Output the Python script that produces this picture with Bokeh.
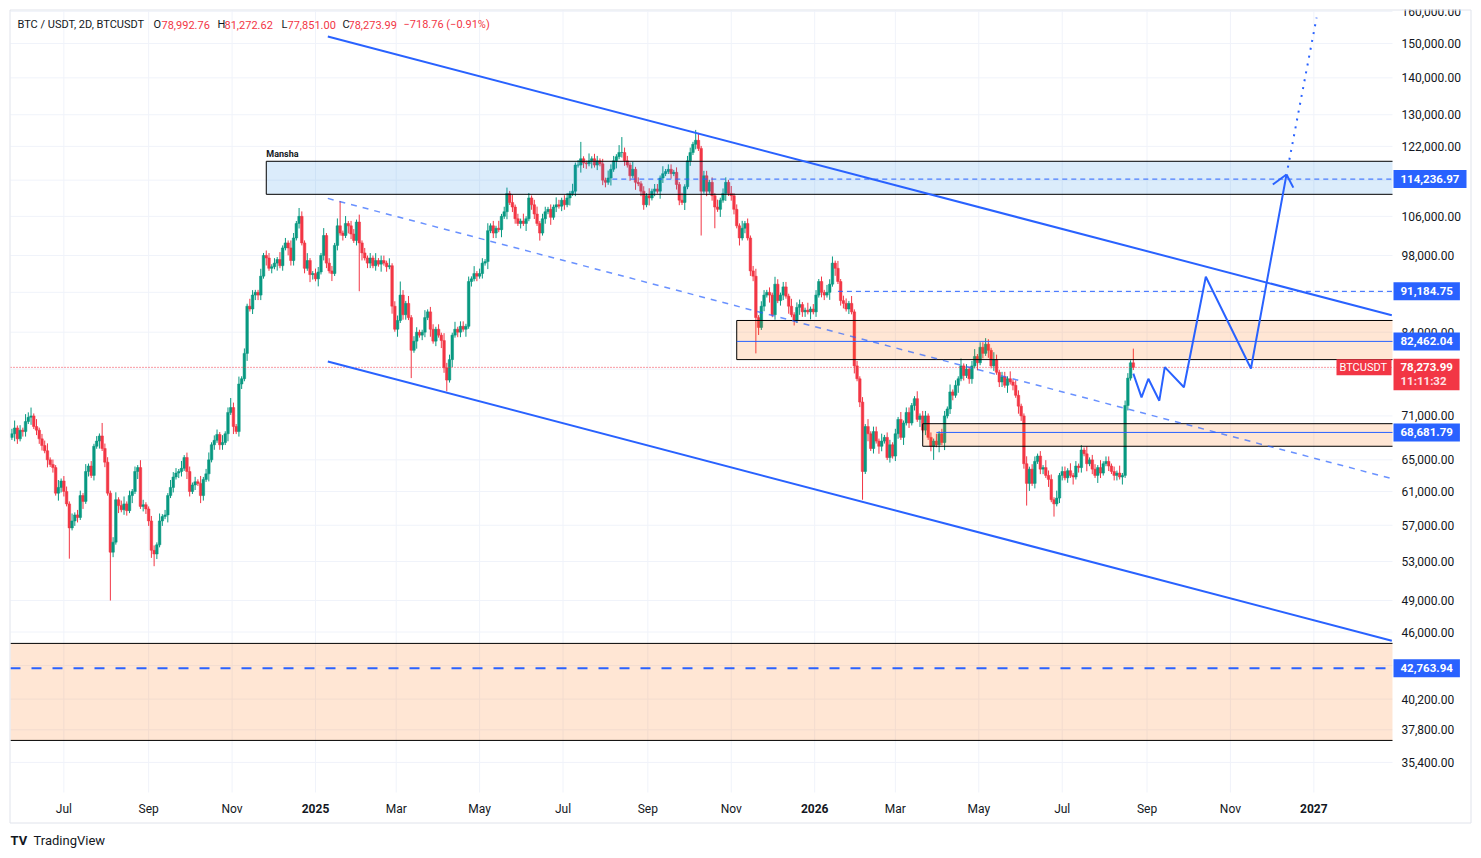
import math
import numpy as np
import pandas as pd
from bokeh.plotting import figure
from bokeh.models import Range1d, ColumnDataSource
from bokeh.core.properties import value
from bokeh.embed import file_html
from bokeh.resources import INLINE

# ---------------- data ----------------
start_date = "2024-05-24"          # first 2D candle
first_open = 68.0                   # thousands USD
closes = [
68.5, 69.3, 67.8, 69.0, 68.8, 70.2, 70.8, 71.0, 69.5, 69.0,
67.8, 66.9, 66.2, 65.0, 64.4, 64.0, 60.8, 61.5, 62.3, 61.0,
59.5, 56.7, 57.5, 58.2, 57.9, 60.5, 59.8, 63.5, 64.2, 63.0,
66.8, 67.5, 68.2, 66.5, 64.7, 60.8, 54.0, 55.1, 60.0, 59.3,
58.8, 59.5, 58.7, 60.5, 61.0, 63.5, 64.0, 59.2, 59.4, 58.9,
57.5, 54.2, 53.8, 54.8, 57.5, 58.0, 58.2, 60.5, 61.5, 62.8,
63.3, 63.5, 63.9, 65.3, 63.5, 61.0, 61.8, 62.2, 62.0, 60.5,
62.5, 63.2, 65.0, 67.0, 67.6, 68.4, 67.0, 67.3, 68.5, 71.5,
72.2, 69.5, 68.8, 75.7, 76.5, 80.5, 88.5, 88.0, 90.5, 91.0,
90.5, 94.0, 98.0, 97.5, 95.5, 95.8, 96.5, 97.2, 96.0, 99.5,
100.5, 99.5, 97.0, 101.5, 104.5, 106.0, 100.5, 95.5, 97.0, 94.3,
94.5, 93.5, 94.8, 98.0, 102.0, 96.5, 95.0, 94.5, 100.0, 104.0,
102.5, 102.0, 104.5, 104.0, 102.3, 101.0, 104.8, 100.5, 98.5, 97.5,
96.5, 97.5, 96.0, 97.0, 96.3, 97.0, 96.5, 95.8, 96.0, 88.5,
84.5, 86.0, 90.5, 87.0, 89.0, 86.5, 81.0, 82.5, 84.0, 83.5,
84.0, 86.5, 87.5, 84.5, 82.5, 84.5, 83.5, 82.6, 78.2, 76.3,
79.5, 83.5, 84.5, 84.0, 85.0, 84.5, 85.0, 93.0, 93.5, 94.5,
94.0, 94.5, 96.5, 96.8, 103.0, 104.0, 102.5, 103.5, 103.2, 106.0,
107.0, 111.0, 109.0, 108.0, 105.5, 104.5, 105.0, 104.5, 105.5, 110.0,
108.5, 106.5, 104.5, 102.5, 105.5, 107.0, 107.5, 105.8, 108.0, 108.5,
108.2, 109.5, 108.5, 110.0, 111.0, 111.5, 117.5, 117.5, 119.0, 118.0,
117.8, 118.5, 119.0, 117.5, 118.5, 117.8, 114.0, 113.5, 114.5, 116.5,
118.5, 119.5, 120.5, 120.5, 118.5, 117.5, 115.0, 116.5, 113.5, 113.2,
111.5, 108.5, 110.5, 110.0, 111.5, 112.0, 111.5, 114.5, 115.5, 116.0,
116.5, 115.5, 115.8, 113.0, 109.5, 109.0, 112.5, 118.5, 120.5, 122.5,
123.5, 121.5, 111.5, 115.0, 111.5, 113.5, 110.5, 108.0, 107.5, 109.5,
111.0, 113.5, 111.0, 110.5, 107.5, 104.0, 101.5, 103.5, 104.5, 101.5,
95.0, 94.0, 86.5, 84.8, 88.5, 90.5, 91.0, 90.5, 87.0, 92.5,
89.5, 90.5, 92.0, 90.3, 88.5, 87.0, 86.0, 88.3, 88.8, 87.5,
87.8, 87.5, 88.0, 87.5, 90.5, 93.0, 91.0, 90.5, 91.0, 92.5,
96.5, 95.5, 93.0, 89.5, 89.0, 88.0, 89.0, 87.5, 78.5, 76.5,
73.0, 63.5, 69.5, 68.5, 66.5, 68.8, 67.5, 66.8, 67.5, 68.0,
65.3, 67.0, 65.5, 68.5, 70.5, 68.0, 70.0, 71.5, 70.0, 72.5,
73.5, 70.5, 71.0, 69.0, 71.0, 68.0, 66.8, 67.5, 67.0, 68.5,
67.3, 71.0, 72.0, 74.5, 74.0, 75.5, 76.5, 78.5, 77.0, 78.0,
76.5, 78.5, 80.0, 79.0, 81.5, 80.5, 82.0, 81.0, 78.5, 79.5,
77.5, 76.0, 76.8, 75.5, 76.5, 76.0, 75.5, 74.0, 72.4, 71.0,
64.5, 62.0, 63.8, 62.0, 64.8, 65.5, 63.8, 64.0, 63.0, 62.5,
60.0, 59.5, 60.2, 63.0, 63.5, 62.7, 63.6, 63.0, 62.8, 64.2,
64.0, 66.3, 65.8, 64.5, 65.0, 63.8, 63.0, 64.0, 63.3, 64.5,
64.8, 64.2, 63.5, 63.0, 63.3, 62.8, 63.0, 72.5, 76.6, 78.99276,
78.27399,
]
# wick lengths beyond the body, in steps of 0.5 %
wick_up = ("2312132213" "1223121312" "2131221312" "1213221231" "2312121321"
           "1221312132" "2131221213" "1231221312" "2213121321" "1312212131"
           "2132122131" "1221312213" "2131221312" "1213122131" "2212131221"
           "1312212132" "2131221213" "1221312131" "2213121312" "1231221213"
           "2122131221" "1312212132" "2131221312" "1213122131" "2212131221"
           "1312212131" "2213121312" "1231221213" "2122131221" "1312212132"
           "2131221312" "1213122131" "2212131221" "1312212131" "2213121312"
           "1231221213" "2122131221" "1312212132" "2131221312" "1213122131"
           "22121312212")
wick_dn = ("1321221312" "2213121322" "1312213121" "2131212213" "1221313122"
           "2312121312" "1221321213" "2131212213" "1312213122" "2213121312"
           "1322121213" "2131221312" "1213212131" "2212131213" "1312212131"
           "2213121321" "1312213121" "2121312213" "1312212131" "2213121312"
           "1221312132" "2131212213" "1312212131" "2213121321" "1212213121"
           "2131212213" "1312213121" "2213121312" "1221312132" "2131212213"
           "1312212131" "2213121321" "1212213121" "2131212213" "1312213121"
           "2213121312" "1221312132" "2131212213" "1312212131" "2213121321"
           "12122131212")
high_marks = {7: 72.2, 33: 70.0, 80: 73.6, 105: 107.8, 120: 109.3, 142: 93.0, 181: 112.3,
              208: 123.1, 223: 124.3, 250: 126.1, 300: 97.8, 356: 83.0}
low_marks = {21: 53.3, 36: 49.0, 52: 52.5, 127: 91.2, 146: 76.6, 159: 74.6, 252: 102.0,
             257: 103.5, 272: 80.5, 311: 60.0, 337: 65.0, 371: 59.3, 381: 58.0}
last_ohlc = (78992.76, 81272.62, 77851.00, 78273.99)

y_ticks = [160000, 150000, 140000, 130000, 122000, 114000, 106000, 98000, 91000, 84000, 78000,
           71000, 65000, 61000, 57000, 53000, 49000, 46000, 43000, 40200, 37800, 35400]
x_tick_dates = ["2024-07-01", "2024-09-01", "2024-11-01", "2025-01-01", "2025-03-01", "2025-05-01",
                "2025-07-01", "2025-09-01", "2025-11-01", "2026-01-01", "2026-03-01", "2026-05-01",
                "2026-07-01", "2026-09-01", "2026-11-01", "2027-01-01"]
x_tick_labels = ["Jul", "Sep", "Nov", "2025", "Mar", "May", "Jul", "Sep", "Nov", "2026",
                 "Mar", "May", "Jul", "Sep", "Nov", "2027"]

# drawings (date, price)
upper_channel = (["2025-01-10", "2027-02-27"], [152100, 86900])
lower_channel = (["2025-01-10", "2027-02-27"], [79200, 45200])
mid_channel = (["2025-01-10", "2027-02-27"], [109900, 62600])
zone_blue = ("2024-11-26", 118400, 110800)
zone_orange1 = ("2025-11-05", 86000, 79500)
zone_orange2 = ("2026-03-21", 69900, 66800)
zone_orange3 = (None, 44960, 37000)
levels_dashed = [("2025-08-06", 114236.97), ("2026-01-18", 91184.75)]
levels_solid = [("2025-11-05", 82462.04), ("2026-03-31", 68681.79)]
level_low = 42763.94
last_price = 78273.99
countdown = "11:11:32"
proj_dates = ["2026-08-22", "2026-08-28", "2026-09-02", "2026-09-10", "2026-09-14",
              "2026-09-28", "2026-10-14", "2026-11-16", "2026-12-12"]
proj_prices = [77300, 73700, 76500, 73200, 78300, 75200, 93900, 78100, 115300]
arrow_wings = [("2026-12-02", 113000), ("2026-12-17", 112300)]
proj_dotted = (["2026-12-13", "2027-01-03"], [116900, 158000])
tag_levels = [114236.97, 91184.75, 82462.04, 68681.79, 42763.94]

# ---------------- layout helpers ----------------
def ms(d):
    return pd.Timestamp(d).value // 10**6

DAY = 86400000
T_REF, PX_REF, PX_PER_DAY = ms("2025-01-01"), 315.0, 1.3676
P_REF, PY_REF, PX_PER_LN = 150000.0, 43.0, 497.9
W, H = 1474, 850

def px_to_x(px):
    return T_REF + (px - PX_REF) / PX_PER_DAY * DAY

def py_to_y(py):
    return P_REF * math.exp(-(py - PY_REF) / PX_PER_LN)

def y_to_py(v):
    return PY_REF - math.log(v / P_REF) * PX_PER_LN

X0, X1 = px_to_x(10), px_to_x(1392)      # chart pane
YB, YT = py_to_y(792), py_to_y(10)

p = figure(y_axis_type="log", x_axis_location=None, y_axis_location=None,
           x_range=Range1d(px_to_x(0), px_to_x(W)), y_range=Range1d(py_to_y(H), py_to_y(0)),
           frame_width=W, frame_height=H, min_border=0,
           toolbar_location=None, output_backend="svg")
p.background_fill_color = "white"
p.border_fill_color = "white"
p.outline_line_color = None
p.grid.visible = False
for g in list(p.center):
    if g.__class__.__name__ == "Grid":
        g.visible = False

TXT = "#131722"
GREEN, RED, BLUE = "#089981", "#F23645", "#2962FF"

def txt(xs, ys, texts, color=TXT, size="12px", align="left", bold=False):
    p.text(x=xs, y=ys, text=texts, text_color=color, text_font=value("Roboto"),
           text_font_size=value(size), text_align=align, text_baseline="middle",
           text_font_style="bold" if bold else "normal")

# ---------------- grid ----------------
xt = [ms(d) for d in x_tick_dates]
GRID = "#F0F3FA"
p.segment(x0=[X0] * len(y_ticks), y0=y_ticks, x1=[X1] * len(y_ticks), y1=y_ticks,
          line_color=GRID, line_width=1)
p.segment(x0=xt, y0=[YB] * len(xt), x1=xt, y1=[YT] * len(xt), line_color=GRID, line_width=1)

# ---------------- candles ----------------
n = len(closes)
dates = pd.date_range(start_date, periods=n, freq="2D")
c = np.array(closes) * 1000.0
o = np.r_[first_open * 1000.0, c[:-1]]
wu = np.array([int(ch) for ch in (wick_up + "1" * n)[:n]])
wd = np.array([int(ch) for ch in (wick_dn + "1" * n)[:n]])
hi = np.maximum(o, c) * (1 + 0.005 * wu)
lo = np.minimum(o, c) * (1 - 0.005 * wd)
for k, v in high_marks.items():
    hi[k] = v * 1000
for k, v in low_marks.items():
    lo[k] = v * 1000
o[-1], hi[-1], lo[-1], c[-1] = last_ohlc
colors = np.where(c >= o, GREEN, RED)
src = ColumnDataSource(dict(x=dates, hi=hi, lo=lo, top=np.maximum(o, c),
                            bot=np.minimum(o, c), col=colors))
p.segment(x0="x", y0="lo", x1="x", y1="hi", color="col", line_width=1, source=src)
p.vbar(x="x", width=1.9 * DAY, top="top", bottom="bot", fill_color="col", line_color="col",
       line_width=0.5, source=src)

# ---------------- zones ----------------
def zone(z, fill, alpha):
    left = ms(z[0]) if z[0] else X0
    p.quad(left=[left], right=[X1], top=[z[1]], bottom=[z[2]],
           fill_color=fill, fill_alpha=alpha, line_color=None)
    p.segment(x0=[left, left], y0=[z[1], z[2]], x1=[X1, X1], y1=[z[1], z[2]],
              line_color="black", line_width=1)
    if z[0]:
        p.segment(x0=[left], y0=[z[1]], x1=[left], y1=[z[2]], line_color="black", line_width=1)

zone(zone_blue, "#1E88E5", 0.16)
zone(zone_orange1, "#FF6D00", 0.17)
zone(zone_orange2, "#FF6D00", 0.17)
zone(zone_orange3, "#FF6D00", 0.17)

# ---------------- levels ----------------
for d, v in levels_dashed:
    p.segment(x0=[ms(d)], y0=[v], x1=[X1], y1=[v], line_color=BLUE, line_width=1, line_dash="5 4")
for d, v in levels_solid:
    p.segment(x0=[ms(d)], y0=[v], x1=[X1], y1=[v], line_color=BLUE, line_width=1)
p.segment(x0=[X0], y0=[level_low], x1=[X1], y1=[level_low], line_color=BLUE, line_width=2,
          line_dash="10 11")
p.segment(x0=[X0], y0=[last_price], x1=[X1], y1=[last_price], line_color=RED, line_width=1,
          line_dash="1 2")

# ---------------- channel + projection ----------------
for ln in (upper_channel, lower_channel):
    p.line([ms(d) for d in ln[0]], ln[1], line_color=BLUE, line_width=2)
p.line([ms(d) for d in mid_channel[0]], mid_channel[1], line_color=BLUE, line_alpha=0.7,
       line_width=1.5, line_dash="6 6")
p.line([ms(d) for d in proj_dates], proj_prices, line_color=BLUE, line_width=2)
for d, v in arrow_wings:
    p.line([ms(d), ms(proj_dates[-1])], [v, proj_prices[-1]], line_color=BLUE, line_width=2)
p.line([ms(d) for d in proj_dotted[0]], proj_dotted[1], line_color=BLUE, line_width=2,
       line_dash="2 6")

# ---------------- price scale ----------------
txt([px_to_x(1401)] * len(y_ticks), y_ticks, [f"{v:,.2f}" for v in y_ticks])

def tag(text, price, bg, px_left, px_right, half=9.0, size="11.5px", pad=7, bold=True):
    py = y_to_py(price)
    p.quad(left=[px_to_x(px_left)], right=[px_to_x(px_right)],
           top=[py_to_y(py - half)], bottom=[py_to_y(py + half)],
           fill_color=bg, line_color=None)
    txt([px_to_x(px_left + pad)], [price], [text], color="white", size=size, bold=bold)

for v in tag_levels:
    s = f"{v:,.2f}"
    tag(s, v, BLUE, 1393, 1400 + 6.6 * len(s))
# current price tag with countdown
py_last = y_to_py(last_price)
p.quad(left=[px_to_x(1393)], right=[px_to_x(1459)], top=[py_to_y(py_last - 8.5)],
       bottom=[py_to_y(py_last + 23)], fill_color=RED, line_color=None)
txt([px_to_x(1400)], [last_price], [f"{last_price:,.2f}"], color="white", size="11.5px", bold=True)
txt([px_to_x(1400)], [py_to_y(py_last + 14)], [countdown], color="#FFE0E4", size="11.5px", bold=True)
tag("BTCUSDT", last_price, RED, 1336, 1391, half=8, size="11px", pad=3, bold=False)

# white strip above the pane (clips the top label like the original)
p.quad(left=[px_to_x(1380)], right=[px_to_x(W)], top=[py_to_y(0)], bottom=[py_to_y(9)],
       fill_color="white", line_color=None)

# ---------------- time scale ----------------
ylab = py_to_y(808)
for t, lab in zip(xt, x_tick_labels):
    txt([t], [ylab], [lab], align="center", bold=lab.isdigit())

# ---------------- border ----------------
p.quad(left=[px_to_x(9.5)], right=[px_to_x(1470.5)], top=[py_to_y(9.5)], bottom=[py_to_y(822.5)],
       fill_color=None, line_color="#E0E3EB", line_width=1)

# ---------------- header + marks ----------------
hy = py_to_y(24)
header = [("BTC / USDT, 2D, BTCUSDT", 17, TXT), ("O", 153, TXT),
          ("78,992.76", 161, RED), ("H", 217, TXT), ("81,272.62", 224, RED),
          ("L", 281, TXT), ("77,851.00", 287, RED), ("C", 342, TXT),
          ("78,273.99", 348, RED), ("\u2212718.76 (\u22120.91%)", 403, RED)]
for t, px, col in header:
    txt([px_to_x(px)], [hy], [t], color=col, size="11px")

txt([ms(zone_blue[0])], [py_to_y(153)], ["Mansha"], size="9px", bold=True)

# logo
txt([px_to_x(10)], [py_to_y(840)], ["TV"], size="13px", bold=True)
txt([px_to_x(33)], [py_to_y(840)], ["TradingView"], size="13px")

open("out.html", "w").write(file_html(p, INLINE))
